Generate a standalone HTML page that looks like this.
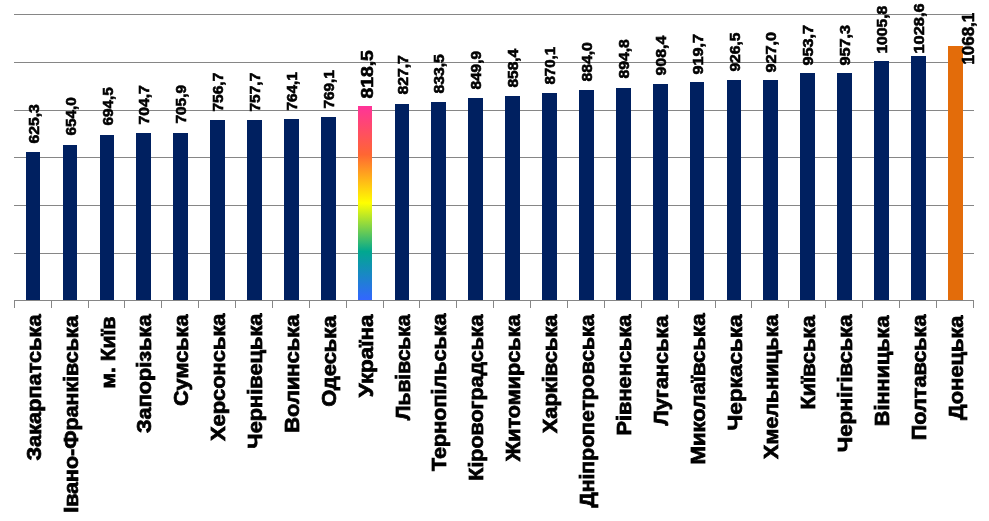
<!DOCTYPE html><html><head><meta charset="utf-8"><style>html,body{margin:0;padding:0;background:#fff;width:989px;height:521px;overflow:hidden}svg{display:block;will-change:transform}text{font-family:"Liberation Sans",sans-serif;font-weight:bold;fill:#000}</style></head><body>
<svg width="989" height="521" viewBox="0 0 989 521">
<defs><linearGradient id="rb" x1="0" y1="0" x2="0" y2="1"><stop offset="0" stop-color="#FF3399"/><stop offset="0.25" stop-color="#FF6633"/><stop offset="0.5" stop-color="#FFFF00"/><stop offset="0.75" stop-color="#01A78F"/><stop offset="1" stop-color="#3366FF"/></linearGradient></defs>
<rect x="14" y="14" width="960" height="1" fill="#868686"/>
<rect x="14" y="62" width="960" height="1" fill="#868686"/>
<rect x="14" y="110" width="960" height="1" fill="#868686"/>
<rect x="14" y="157" width="960" height="1" fill="#868686"/>
<rect x="14" y="205" width="960" height="1" fill="#868686"/>
<rect x="14" y="253" width="960" height="1" fill="#868686"/>
<rect x="26" y="152" width="14" height="148" fill="#002060"/>
<rect x="63" y="145" width="14" height="155" fill="#002060"/>
<rect x="100" y="135" width="14" height="165" fill="#002060"/>
<rect x="136" y="133" width="15" height="167" fill="#002060"/>
<rect x="173" y="133" width="15" height="167" fill="#002060"/>
<rect x="210" y="120" width="15" height="180" fill="#002060"/>
<rect x="247" y="120" width="15" height="180" fill="#002060"/>
<rect x="284" y="119" width="15" height="181" fill="#002060"/>
<rect x="321" y="117" width="15" height="183" fill="#002060"/>
<rect x="358" y="106" width="14" height="194" fill="url(#rb)"/>
<rect x="395" y="104" width="14" height="196" fill="#002060"/>
<rect x="431" y="102" width="15" height="198" fill="#002060"/>
<rect x="468" y="98" width="15" height="202" fill="#002060"/>
<rect x="505" y="96" width="15" height="204" fill="#002060"/>
<rect x="542" y="93" width="15" height="207" fill="#002060"/>
<rect x="579" y="90" width="15" height="210" fill="#002060"/>
<rect x="616" y="88" width="15" height="212" fill="#002060"/>
<rect x="653" y="84" width="15" height="216" fill="#002060"/>
<rect x="690" y="82" width="14" height="218" fill="#002060"/>
<rect x="727" y="80" width="14" height="220" fill="#002060"/>
<rect x="763" y="80" width="15" height="220" fill="#002060"/>
<rect x="800" y="73" width="15" height="227" fill="#002060"/>
<rect x="837" y="73" width="15" height="227" fill="#002060"/>
<rect x="874" y="61" width="15" height="239" fill="#002060"/>
<rect x="911" y="56" width="15" height="244" fill="#002060"/>
<rect x="948" y="46" width="15" height="254" fill="#E36C0A"/>
<rect x="14" y="300" width="960" height="1" fill="#868686"/>
<rect x="14" y="300" width="1" height="8" fill="#868686"/>
<rect x="51" y="300" width="1" height="8" fill="#868686"/>
<rect x="88" y="300" width="1" height="8" fill="#868686"/>
<rect x="124" y="300" width="1" height="8" fill="#868686"/>
<rect x="161" y="300" width="1" height="8" fill="#868686"/>
<rect x="198" y="300" width="1" height="8" fill="#868686"/>
<rect x="235" y="300" width="1" height="8" fill="#868686"/>
<rect x="272" y="300" width="1" height="8" fill="#868686"/>
<rect x="309" y="300" width="1" height="8" fill="#868686"/>
<rect x="346" y="300" width="1" height="8" fill="#868686"/>
<rect x="383" y="300" width="1" height="8" fill="#868686"/>
<rect x="419" y="300" width="1" height="8" fill="#868686"/>
<rect x="456" y="300" width="1" height="8" fill="#868686"/>
<rect x="493" y="300" width="1" height="8" fill="#868686"/>
<rect x="530" y="300" width="1" height="8" fill="#868686"/>
<rect x="567" y="300" width="1" height="8" fill="#868686"/>
<rect x="604" y="300" width="1" height="8" fill="#868686"/>
<rect x="641" y="300" width="1" height="8" fill="#868686"/>
<rect x="678" y="300" width="1" height="8" fill="#868686"/>
<rect x="715" y="300" width="1" height="8" fill="#868686"/>
<rect x="751" y="300" width="1" height="8" fill="#868686"/>
<rect x="788" y="300" width="1" height="8" fill="#868686"/>
<rect x="825" y="300" width="1" height="8" fill="#868686"/>
<rect x="862" y="300" width="1" height="8" fill="#868686"/>
<rect x="899" y="300" width="1" height="8" fill="#868686"/>
<rect x="936" y="300" width="1" height="8" fill="#868686"/>
<rect x="973" y="300" width="1" height="8" fill="#868686"/>
<g stroke="#000" stroke-width="0.6">
<text transform="translate(39.10,143.60) rotate(-90) scale(1.1101,1)" font-size="14.2">625,3</text>
<text transform="translate(76.10,135.60) rotate(-90) scale(1.0816,1)" font-size="14.2">654,0</text>
<text transform="translate(113.10,125.60) rotate(-90) scale(1.0815,1)" font-size="14.2">694,5</text>
<text transform="translate(149.10,124.60) rotate(-90) scale(1.1106,1)" font-size="14.2">704,7</text>
<text transform="translate(186.10,123.60) rotate(-90) scale(1.0899,1)" font-size="14.2">705,9</text>
<text transform="translate(223.10,111.60) rotate(-90) scale(1.0957,1)" font-size="14.2">756,7</text>
<text transform="translate(260.10,111.60) rotate(-90) scale(1.0957,1)" font-size="14.2">757,7</text>
<text transform="translate(297.10,110.60) rotate(-90) scale(1.0841,1)" font-size="14.2">764,1</text>
<text transform="translate(334.10,108.60) rotate(-90) scale(1.0841,1)" font-size="14.2">769,1</text>
<text transform="translate(372.50,98.60) rotate(-90) scale(1.2081,1)" font-size="16">818,5</text>
<text transform="translate(408.10,94.60) rotate(-90) scale(1.1099,1)" font-size="14.2">827,7</text>
<text transform="translate(444.10,93.60) rotate(-90) scale(1.1101,1)" font-size="14.2">833,5</text>
<text transform="translate(481.10,89.60) rotate(-90) scale(1.0905,1)" font-size="14.2">849,9</text>
<text transform="translate(518.10,87.60) rotate(-90) scale(1.0935,1)" font-size="14.2">858,4</text>
<text transform="translate(555.10,84.60) rotate(-90) scale(1.0616,1)" font-size="14.2">870,1</text>
<text transform="translate(592.10,81.60) rotate(-90) scale(1.1109,1)" font-size="14.2">884,0</text>
<text transform="translate(629.10,78.60) rotate(-90) scale(1.1100,1)" font-size="14.2">894,8</text>
<text transform="translate(666.10,75.60) rotate(-90) scale(1.1235,1)" font-size="14.2">908,4</text>
<text transform="translate(703.10,74.60) rotate(-90) scale(1.1410,1)" font-size="14.2">919,7</text>
<text transform="translate(740.10,71.60) rotate(-90) scale(1.0984,1)" font-size="14.2">926,5</text>
<text transform="translate(776.10,72.60) rotate(-90) scale(1.1410,1)" font-size="14.2">927,0</text>
<text transform="translate(813.10,65.60) rotate(-90) scale(1.1414,1)" font-size="14.2">953,7</text>
<text transform="translate(850.10,65.60) rotate(-90) scale(1.1414,1)" font-size="14.2">957,3</text>
<text transform="translate(887.10,53.60) rotate(-90) scale(1.1038,1)" font-size="14.2">1005,8</text>
<text transform="translate(924.10,53.60) rotate(-90) scale(1.1564,1)" font-size="14.2">1028,6</text>
<text transform="translate(974.30,64.60) rotate(-90) scale(1.0866,1)" font-size="15.6">1068,1</text>
</g>
<g stroke="#000" stroke-width="0.75" text-anchor="end">
<text transform="translate(40.90,314.50) rotate(-90) scale(1.0991,1)" font-size="19.8">Закарпатська</text>
<text transform="translate(77.90,315.50) rotate(-90) scale(1.0836,1)" font-size="19.8">Івано-Франківська</text>
<text transform="translate(114.90,316.50) rotate(-90) scale(1.0664,1)" font-size="19.8">м. Київ</text>
<text transform="translate(150.90,314.50) rotate(-90) scale(1.0982,1)" font-size="19.8">Запорізька</text>
<text transform="translate(187.90,314.50) rotate(-90) scale(1.0962,1)" font-size="19.8">Сумська</text>
<text transform="translate(224.90,313.50) rotate(-90) scale(1.1048,1)" font-size="19.8">Херсонська</text>
<text transform="translate(261.90,313.50) rotate(-90) scale(1.1025,1)" font-size="19.8">Чернівецька</text>
<text transform="translate(298.90,314.50) rotate(-90) scale(1.1091,1)" font-size="19.8">Волинська</text>
<text transform="translate(335.90,315.50) rotate(-90) scale(1.1082,1)" font-size="19.8">Одеська</text>
<text transform="translate(372.90,314.50) rotate(-90) scale(1.1313,1)" font-size="19.8">Україна</text>
<text transform="translate(409.90,314.50) rotate(-90) scale(1.0633,1)" font-size="19.8">Львівська</text>
<text transform="translate(445.90,313.50) rotate(-90) scale(1.0903,1)" font-size="19.8">Тернопільська</text>
<text transform="translate(482.90,314.50) rotate(-90) scale(1.0831,1)" font-size="19.8">Кіровоградська</text>
<text transform="translate(519.90,314.50) rotate(-90) scale(1.0933,1)" font-size="19.8">Житомирська</text>
<text transform="translate(556.90,314.50) rotate(-90) scale(1.1054,1)" font-size="19.8">Харківська</text>
<text transform="translate(593.90,314.50) rotate(-90) scale(1.0716,1)" font-size="19.8">Дніпропетровська</text>
<text transform="translate(630.90,314.50) rotate(-90) scale(1.1026,1)" font-size="19.8">Рівненська</text>
<text transform="translate(667.90,315.50) rotate(-90) scale(1.0979,1)" font-size="19.8">Луганська</text>
<text transform="translate(704.90,313.50) rotate(-90) scale(1.1207,1)" font-size="19.8">Миколаївська</text>
<text transform="translate(741.90,314.50) rotate(-90) scale(1.1362,1)" font-size="19.8">Черкаська</text>
<text transform="translate(777.90,314.50) rotate(-90) scale(1.0870,1)" font-size="19.8">Хмельницька</text>
<text transform="translate(814.90,315.50) rotate(-90) scale(1.0997,1)" font-size="19.8">Київська</text>
<text transform="translate(851.90,314.50) rotate(-90) scale(1.1113,1)" font-size="19.8">Чернігівська</text>
<text transform="translate(888.90,315.50) rotate(-90) scale(1.0953,1)" font-size="19.8">Вінницька</text>
<text transform="translate(925.90,314.50) rotate(-90) scale(1.0953,1)" font-size="19.8">Полтавська</text>
<text transform="translate(962.90,315.50) rotate(-90) scale(1.1044,1)" font-size="19.8">Донецька</text>
</g>
</svg></body></html>
